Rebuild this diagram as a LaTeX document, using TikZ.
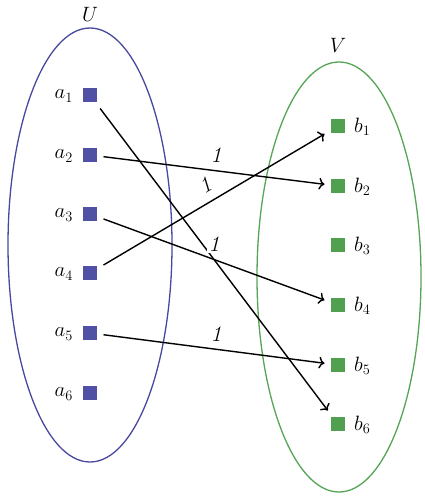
\documentclass[tikz,border=0pt]{standalone}
\usetikzlibrary{arrows.meta}
\definecolor{setblue}{RGB}{72,72,160}
\definecolor{sqblue}{RGB}{80,80,165}
\definecolor{setgreen}{RGB}{85,165,85}
\definecolor{sqgreen}{RGB}{80,160,80}
\begin{document}
\begin{tikzpicture}[x=1pt,y=-1pt, font=\fontsize{22}{26}\selectfont,
  usq/.style={fill=sqblue, minimum size=14pt, inner sep=0pt, outer sep=6.5pt},
  vsq/.style={fill=sqgreen, minimum size=14pt, inner sep=0pt, outer sep=6.5pt},
  link/.style={line width=1.4pt, -{To[scale=1.2]}},
  wlab/.style={fill=white, inner sep=1.5pt},
  setline/.style={line width=1.3pt}]
\useasboundingbox (0,0) rectangle (425,500);
% sets
\draw[setblue, setline] (90,245) ellipse [x radius=82, y radius=217];
\draw[setgreen, setline] (339,277) ellipse [x radius=82, y radius=215];
\node (U) at (90,14) {$U$};
\node (V) at (338,45) {$V$};
% U elements
\foreach \i/\y in {1/95,2/155,3/214,4/273,5/333,6/393}{
  \node[usq] (a\i) at (90,\y) {};
  \node[anchor=east, inner sep=1pt] (la\i) at (74,\y+1) {$a_{\i}$};
}
% V elements
\foreach \i/\y in {1/126,2/186,3/245,4/305,5/365,6/424}{
  \node[vsq] (b\i) at (338,\y) {};
  \node[anchor=west, inner sep=1pt] (lb\i) at (353,\y+1) {$b_{\i}$};
}
% connectors
\draw[link] (a1) -- (b6);
\draw[link] (a2) -- (b2);
\draw[link] (a3) -- (b4);
\draw[link] (a4) -- (b1);
\draw[link] (a5) -- (b5);
% weights
\node[wlab] (w22) at (216,155) {\textit{1}};
\node[wlab, rotate=31] (w41) at (205,185) {\textit{1}};
\node[wlab] (w16) at (214,244) {\textit{1}};
\node[wlab] (w55) at (216,334) {\textit{1}};
\end{tikzpicture}
\end{document}
